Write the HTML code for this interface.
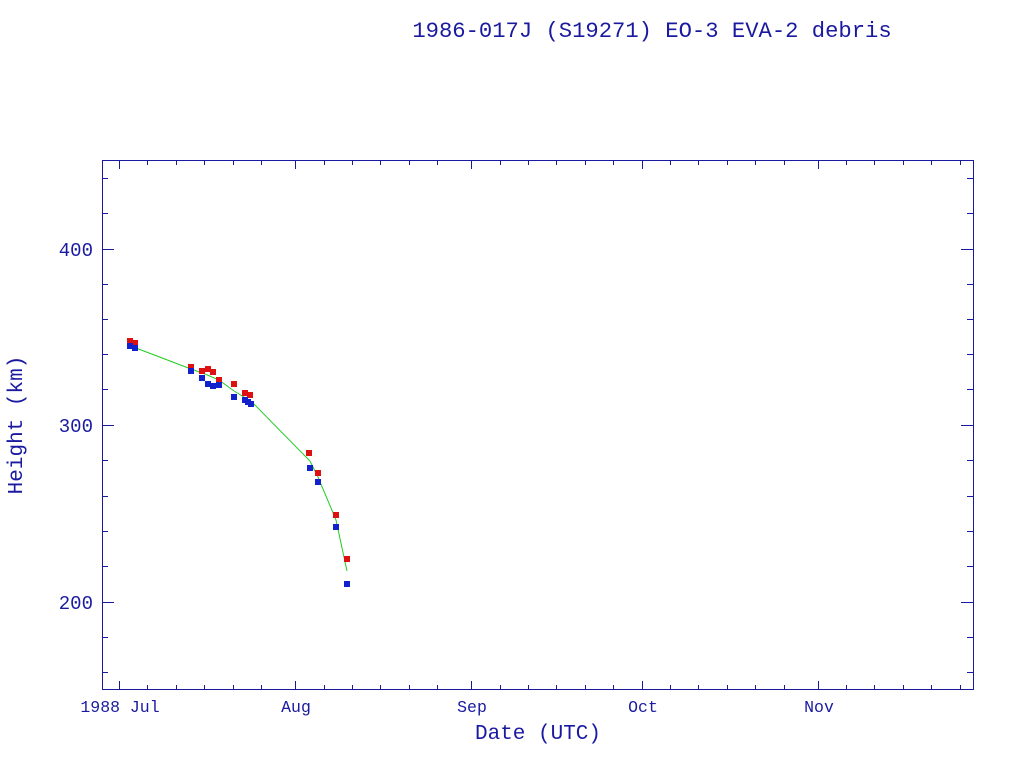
<!DOCTYPE html>
<html><head><style>
body{margin:0;background:#fff;}
svg{display:block;}
text{font-family:"Liberation Mono",monospace;fill:#1a1aa0;}
</style></head><body>
<svg width="1024" height="768" xmlns="http://www.w3.org/2000/svg">
<rect width="1024" height="768" fill="#fff"/>
<text x="652" y="37" font-size="22.2" text-anchor="middle">1986-017J (S19271) EO-3 EVA-2 debris</text>
<rect x="102.5" y="160.5" width="871" height="529" fill="none" stroke="#1a1aa0" stroke-width="1"/>
<g stroke="#1a1aa0" stroke-width="1">
<path d="M119.5 690V681M295.5 690V681M471.5 690V681M642.5 690V681M818.5 690V681M119.5 160V169M295.5 160V169M471.5 160V169M642.5 160V169M818.5 160V169"/>
<path d="M147.5 690v-5M176.5 690v-5M204.5 690v-5M233.5 690v-5M261.5 690v-5M324.5 690v-5M352.5 690v-5M380.5 690v-5M409.5 690v-5M437.5 690v-5M500.5 690v-5M528.5 690v-5M556.5 690v-5M585.5 690v-5M613.5 690v-5M670.5 690v-5M698.5 690v-5M727.5 690v-5M755.5 690v-5M784.5 690v-5M846.5 690v-5M874.5 690v-5M903.5 690v-5M931.5 690v-5M960.5 690v-5
M147.5 160v5M176.5 160v5M204.5 160v5M233.5 160v5M261.5 160v5M324.5 160v5M352.5 160v5M380.5 160v5M409.5 160v5M437.5 160v5M500.5 160v5M528.5 160v5M556.5 160v5M585.5 160v5M613.5 160v5M670.5 160v5M698.5 160v5M727.5 160v5M755.5 160v5M784.5 160v5M846.5 160v5M874.5 160v5M903.5 160v5M931.5 160v5M960.5 160v5"/>
<path d="M102 249.5h12M102 425.5h12M102 602.5h12M973 249.5h-12M973 425.5h-12M973 602.5h-12"/>
<path d="M102 672.5h6M102 637.5h6M102 566.5h6M102 531.5h6M102 496.5h6M102 460.5h6M102 389.5h6M102 354.5h6M102 319.5h6M102 284.5h6M102 213.5h6M102 178.5h6
M973 672.5h-6M973 637.5h-6M973 566.5h-6M973 531.5h-6M973 496.5h-6M973 460.5h-6M973 389.5h-6M973 354.5h-6M973 319.5h-6M973 284.5h-6M973 213.5h-6M973 178.5h-6"/>
</g>
<g font-size="19" text-anchor="end">
<text x="93" y="256">400</text>
<text x="93" y="432">300</text>
<text x="93" y="609">200</text>
</g>
<g font-size="16.5" text-anchor="middle">
<text x="120" y="712">1988 Jul</text>
<text x="296" y="712">Aug</text>
<text x="472" y="712">Sep</text>
<text x="643" y="712">Oct</text>
<text x="819" y="712">Nov</text>
</g>
<text x="538" y="739" font-size="21" text-anchor="middle">Date (UTC)</text>
<text transform="translate(22,425) rotate(-90)" font-size="21" text-anchor="middle">Height (km)</text>
<polyline fill="none" stroke="#22cc22" stroke-width="1" points="128,345 191,369 205,374 219,380 234,391 252,402 310,461 318,477 336,520 347,571"/>
<g fill="#dd1111">
<rect x="127" y="338" width="6" height="6"/><rect x="132" y="340" width="6" height="6"/>
<rect x="188" y="364" width="6" height="6"/><rect x="199" y="368" width="6" height="6"/><rect x="205" y="366" width="6" height="6"/><rect x="210" y="369" width="6" height="6"/>
<rect x="216" y="377" width="6" height="6"/><rect x="216" y="379" width="6" height="6"/><rect x="231" y="381" width="6" height="6"/>
<rect x="242" y="390" width="6" height="6"/><rect x="247" y="392" width="6" height="6"/>
<rect x="306" y="450" width="6" height="6"/><rect x="315" y="470" width="6" height="6"/><rect x="333" y="512" width="6" height="6"/><rect x="344" y="556" width="6" height="6"/>
</g>
<g fill="#1122cc">
<rect x="127" y="343" width="6" height="6"/><rect x="132" y="345" width="6" height="6"/>
<rect x="188" y="368" width="6" height="6"/><rect x="199" y="375" width="6" height="6"/>
<rect x="205" y="381" width="6" height="6"/><rect x="210" y="383" width="6" height="6"/><rect x="216" y="382" width="6" height="6"/>
<rect x="231" y="394" width="6" height="6"/><rect x="242" y="397" width="6" height="6"/><rect x="245" y="399" width="6" height="6"/><rect x="248" y="401" width="6" height="6"/>
<rect x="307" y="465" width="6" height="6"/><rect x="315" y="479" width="6" height="6"/><rect x="333" y="524" width="6" height="6"/><rect x="344" y="581" width="6" height="6"/>
</g>
</svg>
</body></html>
